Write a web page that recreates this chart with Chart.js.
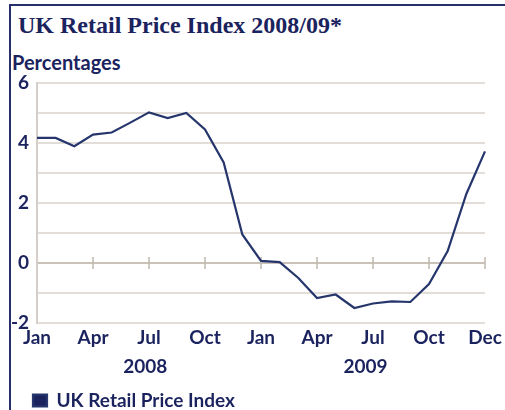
<!DOCTYPE html>
<html>
<head>
<meta charset="utf-8">
<script src="https://cdn.jsdelivr.net/npm/chart.js"></script>
<style>
  html, body { margin: 0; padding: 0; background: #fff; }
  #wrap { position: relative; width: 505px; height: 410px; overflow: hidden; }
  #frame { position: absolute; left: 9px; top: 4px; width: 500px; height: 420px;
           border-top: 2px solid #27306b; border-left: 2px solid #27306b; }
  #title { position: absolute; left: 18px; top: 12px; margin: 0;
           font: bold 24px "Liberation Serif", serif; color: #1b235e; white-space: nowrap; }
  #unit { position: absolute; left: 12px; top: 50px;
          font: bold 20px Lato, sans-serif; color: #1b235e; }
  canvas { position: absolute; left: 0; top: 0; }
</style>
</head>
<body>
<div id="wrap">
  <div id="frame"></div>
  <h1 id="title">UK Retail Price Index 2008/09*</h1>
  <div id="unit">Percentages</div>
  <canvas id="myChart" width="505" height="410"></canvas>
</div>
<script>
// monthly points, Jan 2008 onwards
const months = ['Jan 08','Feb 08','Mar 08','Apr 08','May 08','Jun 08','Jul 08','Aug 08','Sep 08','Oct 08','Nov 08','Dec 08',
                'Jan 09','Feb 09','Mar 09','Apr 09','May 09','Jun 09','Jul 09','Aug 09','Sep 09','Oct 09','Nov 09','Dec 09','Jan 10'];
const rpi = [4.17, 4.17, 3.89, 4.28, 4.35, 4.68, 5.02, 4.83, 5.0, 4.45, 3.35, 0.95,
             0.07, 0.03, -0.5, -1.17, -1.05, -1.5, -1.35, -1.28, -1.3, -0.7, 0.4, 2.3, 3.72];
const tickLabels = ['Jan','Apr','Jul','Oct','Jan','Apr','Jul','Oct','Dec'];
const years = ['2008', '2009'];
const yearAt = [5.8, 17.6];

const navy = '#1b235e';
const ctx = document.getElementById('myChart');

const extras = {
  id: 'extras',
  afterLayout(chart) {
    // legend sits indented under the plot, not flush with the frame
    const lg = chart.legend;
    const dx = 29 - lg.left;
    lg.left += dx;
    lg.right += dx;
  },
  beforeDatasetsDraw(chart) {
    const {ctx, scales: {x, y}} = chart;
    const y0 = y.getPixelForValue(0);
    ctx.save();
    ctx.strokeStyle = '#c2b8af';
    ctx.lineWidth = 1.5;
    for (let i = 3; i < months.length; i += 3) {
      const px = x.getPixelForValue(i);
      ctx.beginPath();
      ctx.moveTo(px, y0 - 6);
      ctx.lineTo(px, y0 + 6);
      ctx.stroke();
    }
    ctx.restore();
  },
  afterDraw(chart) {
    const {ctx, scales: {x}} = chart;
    ctx.save();
    ctx.fillStyle = navy;
    ctx.font = 'bold 19px Lato';
    ctx.textAlign = 'center';
    ctx.textBaseline = 'middle';
    years.forEach((yr, k) => ctx.fillText(yr, x.getPixelForValue(yearAt[k]), x.top + 44));
    ctx.restore();
  }
};

new Chart(ctx, {
  type: 'line',
  data: {
    labels: months,
    datasets: [{
      label: 'UK Retail Price Index',
      data: rpi,
      borderColor: '#26366c',
      backgroundColor: navy,
      borderWidth: 2.2,
      pointRadius: 0,
      tension: 0
    }]
  },
  options: {
    responsive: false,
    devicePixelRatio: 1,
    animation: false,
    layout: { padding: { left: 10, right: 20, top: 83, bottom: -10 } },
    plugins: {
      title: { display: false },
      tooltip: { enabled: false },
      legend: {
        position: 'bottom',
        align: 'start',
        labels: {
          boxWidth: 14,
          boxHeight: 12,
          padding: 4,
          color: navy,
          font: { family: 'Lato', size: 19, weight: 'bold' }
        }
      }
    },
    scales: {
      x: {
        grid: { display: false, drawTicks: false },
        border: { display: false },
        afterFit: (s) => { s.height = 64; },
        ticks: {
          autoSkip: false,
          maxRotation: 0,
          padding: 3,
          color: navy,
          font: { family: 'Lato', size: 19, weight: 'bold' },
          callback: (v, i) => (i % 3 === 0 ? tickLabels[i / 3] : '')
        }
      },
      y: {
        min: -2,
        max: 6,
        afterFit: (s) => { s.width = 27; },
        border: { display: true, color: '#d6cfc9', width: 2 },
        grid: {
          drawTicks: false,
          lineWidth: 2,
          color: (c) => (c.tick.value === 0 ? '#cbc2ba' : '#e3ddd8')
        },
        ticks: {
          stepSize: 1,
          autoSkip: false,
          padding: 8,
          color: navy,
          font: { family: 'Lato', size: 19, weight: 'bold' },
          callback: (v) => (v % 2 === 0 ? v : '')
        }
      }
    }
  },
  plugins: [extras]
});
</script>
</body>
</html>
